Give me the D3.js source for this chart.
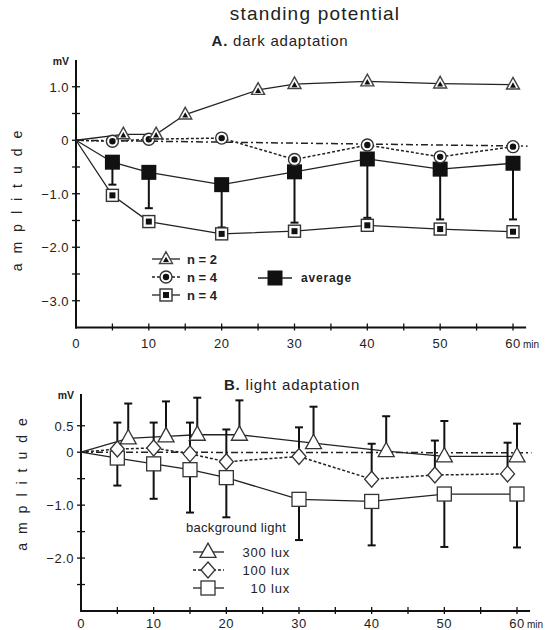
<!DOCTYPE html>
<html>
<head>
<meta charset="utf-8">
<script src="https://cdn.jsdelivr.net/npm/d3@7"></script>
<style>
  body { margin: 0; background: #fff; }
  svg text { font-family: "Liberation Sans", Arial, sans-serif; fill: #222; }
</style>
</head>
<body>
<div id="chart"></div>
<script>
// ---- panel A: dark adaptation ----
const triTimesA = [0, 6.5, 11, 15, 25, 30, 40, 50, 60];
const triValsA = [0, 0.11, 0.11, 0.48, 0.94, 1.05, 1.10, 1.06, 1.04];
const timesA = [0, 5, 10, 20, 30, 40, 50, 60];
const circValsA = [0, -0.02, 0.02, 0.04, -0.36, -0.09, -0.31, -0.12];
const sqValsA = [0, -1.03, -1.52, -1.75, -1.70, -1.59, -1.66, -1.71];
const avgValsA = [0, -0.41, -0.60, -0.83, -0.59, -0.35, -0.54, -0.43];
const avgLowA = [null, -0.83, -1.27, -1.63, -1.54, -1.45, -1.48, -1.48];
const baseA = [[0, 0], [62, -0.11]];
const yTicksA = [1.0, 0.5, 0, -0.5, -1.0, -1.5, -2.0, -2.5, -3.0];
const yLabelsA = [1.0, 0, -1.0, -2.0, -3.0];

// ---- panel B: light adaptation ----
const triTimesB = [0, 6.5, 11.7, 16, 21.8, 32, 42, 50, 60];
const triValsB = [0, 0.26, 0.30, 0.33, 0.33, 0.17, 0.02, -0.08, -0.08];
const triHighB = [null, 0.92, 0.96, 1.03, 0.98, 0.86, 0.68, 0.59, 0.54];
const diaTimesB = [0, 5, 10, 15, 20, 30, 40, 48.7, 58.7];
const diaValsB = [0, 0.06, 0.08, -0.03, -0.18, -0.08, -0.51, -0.43, -0.41];
const diaHighB = [null, 0.56, 0.56, 0.56, 0.43, 0.47, 0.16, 0.22, 0.18];
const sqTimesB = [0, 5, 10, 15, 20, 30, 40, 50, 60];
const sqValsB = [0, -0.11, -0.22, -0.33, -0.48, -0.89, -0.93, -0.79, -0.79];
const sqLowB = [null, -0.63, -0.88, -1.14, -1.23, -1.66, -1.76, -1.79, -1.80];
const baseB = [[0, 0], [62, -0.01]];
const yTicksB = [0.5, 0, -0.5, -1.0, -1.5, -2.0, -2.5];
const yLabelsB = [0.5, 0, -1.0, -2.0];

const xTicks = [0, 5, 10, 15, 20, 25, 30, 35, 40, 45, 50, 55, 60];
const xLabels = [0, 10, 20, 30, 40, 50, 60];

const width = 555, height = 630;
const svg = d3.select("#chart").append("svg")
  .attr("width", width).attr("height", height);

const xA = d3.scaleLinear().domain([0, 60]).range([76, 513]);
const yA = d3.scaleLinear().domain([-3.5, 1.5]).range([327.5, 60]);
const xB = d3.scaleLinear().domain([0, 60]).range([81, 517]);
const yB = d3.scaleLinear().domain([-3.0, 1.1]).range([611, 394]);

function fmt(v){
  if (v === 0) return "0";
  return (v < 0 ? "\u2212" : "") + Math.abs(v).toFixed(1);
}

// draw axes for one panel
function drawAxes(x, y, yTicks, yLabels, xEnd, labelGap){
  const g = svg.append("g");
  const x0 = x(0), yBottom = y.range()[0], yTop = y.range()[1];
  g.append("line").attr("x1", x0).attr("x2", x0).attr("y1", yTop).attr("y2", yBottom + 1)
    .attr("stroke", "#111").attr("stroke-width", 2);
  g.append("line").attr("x1", x0 - 1).attr("x2", x(xEnd)).attr("y1", yBottom).attr("y2", yBottom)
    .attr("stroke", "#111").attr("stroke-width", 2);
  yTicks.forEach(t => {
    g.append("line").attr("x1", x0 - 4).attr("x2", x0 + 4).attr("y1", y(t)).attr("y2", y(t))
      .attr("stroke", "#111").attr("stroke-width", 1.3);
  });
  yLabels.forEach(t => {
    g.append("text").attr("x", x0 - 7).attr("y", y(t) + 5)
      .attr("text-anchor", "end").style("font-size", "13px").style("letter-spacing", "0.5px")
      .text(fmt(t));
  });
  xTicks.forEach(t => {
    if (t === 0) return;
    g.append("line").attr("x1", x(t)).attr("x2", x(t)).attr("y1", yBottom - 4).attr("y2", yBottom + 3)
      .attr("stroke", "#111").attr("stroke-width", 1.3);
  });
  xLabels.forEach(t => {
    g.append("text").attr("x", x(t)).attr("y", yBottom + labelGap)
      .attr("text-anchor", "middle").style("font-size", "13px").style("letter-spacing", "0.5px")
      .text(t);
  });
  g.append("text").attr("x", x(60) + 10).attr("y", yBottom + labelGap)
    .style("font-size", "10px").text("min");
  g.append("text").attr("x", x0 - 7).attr("y", yTop + 5)
    .attr("text-anchor", "end").style("font-size", "10.5px").style("font-weight", "bold").text("mV");
}

const line = (x, y) => d3.line().x(d => x(d[0])).y(d => y(d[1]));
const zipXY = (ts, vs) => ts.map((t, i) => [t, vs[i]]);

function drawLine(x, y, pts, dash){
  svg.append("path").datum(pts)
    .attr("d", line(x, y))
    .attr("fill", "none").attr("stroke", "#222").attr("stroke-width", dash ? 1.5 : 1.3)
    .attr("stroke-dasharray", dash || null);
}

function errBar(x, y, t, v, end){
  const g = svg.append("g");
  g.append("line").attr("x1", x(t)).attr("x2", x(t)).attr("y1", y(v)).attr("y2", y(end))
    .attr("stroke", "#111").attr("stroke-width", 2);
  g.append("line").attr("x1", x(t) - 4).attr("x2", x(t) + 4).attr("y1", y(end)).attr("y2", y(end))
    .attr("stroke", "#111").attr("stroke-width", 2);
}

// marker shapes
function triangle(cx, cy, s){
  const h = s * 0.9;
  return `M${cx},${cy - h * 0.62}L${cx + s / 2},${cy + h * 0.38}L${cx - s / 2},${cy + h * 0.38}Z`;
}
function marker(type, cx, cy){
  const g = svg.append("g");
  if (type === "triA"){
    g.append("path").attr("d", triangle(cx, cy, 13)).attr("fill", "#fff").attr("stroke", "#444").attr("stroke-width", 1.4);
    g.append("path").attr("d", triangle(cx, cy + 1, 6)).attr("fill", "#111");
  } else if (type === "circA"){
    g.append("circle").attr("cx", cx).attr("cy", cy).attr("r", 6).attr("fill", "#fff").attr("stroke", "#333").attr("stroke-width", 1.4);
    g.append("circle").attr("cx", cx).attr("cy", cy).attr("r", 3.2).attr("fill", "#111");
  } else if (type === "sqA"){
    g.append("rect").attr("x", cx - 6).attr("y", cy - 6).attr("width", 12).attr("height", 12).attr("fill", "#fff").attr("stroke", "#333").attr("stroke-width", 1.4);
    g.append("rect").attr("x", cx - 3).attr("y", cy - 3).attr("width", 6).attr("height", 6).attr("fill", "#111");
  } else if (type === "avg"){
    g.append("rect").attr("x", cx - 7.5).attr("y", cy - 7.5).attr("width", 15).attr("height", 15).attr("fill", "#111");
  } else if (type === "triB"){
    g.append("path").attr("d", triangle(cx, cy, 16)).attr("fill", "#fff").attr("stroke", "#333").attr("stroke-width", 1.3);
  } else if (type === "diaB"){
    g.append("path").attr("d", `M${cx},${cy - 8}L${cx + 7},${cy}L${cx},${cy + 8}L${cx - 7},${cy}Z`)
      .attr("fill", "#fff").attr("stroke", "#333").attr("stroke-width", 1.3);
  } else if (type === "sqB"){
    g.append("rect").attr("x", cx - 7) .attr("y", cy - 7).attr("width", 14).attr("height", 14).attr("fill", "#fff").attr("stroke", "#333").attr("stroke-width", 1.3);
  }
}

// ---------- titles ----------
svg.append("text").attr("x", 315).attr("y", 20).attr("text-anchor", "middle")
  .style("font-size", "19px").style("letter-spacing", "1.2px").text("standing potential");
const tA = svg.append("text").attr("x", 280).attr("y", 46).attr("text-anchor", "middle").style("font-size", "15px").style("letter-spacing", "0.8px");
tA.append("tspan").style("font-weight", "bold").text("A. ");
tA.append("tspan").text("dark adaptation");
const tB = svg.append("text").attr("x", 292).attr("y", 390).attr("text-anchor", "middle").style("font-size", "15px").style("letter-spacing", "0.8px");
tB.append("tspan").style("font-weight", "bold").text("B. ");
tB.append("tspan").text("light adaptation");

svg.append("text").attr("transform", "translate(22,196) rotate(-90)").attr("text-anchor", "middle")
  .style("font-size", "14px").style("letter-spacing", "10px").text("amplitude");
svg.append("text").attr("transform", "translate(27,480) rotate(-90)").attr("text-anchor", "middle")
  .style("font-size", "14px").style("letter-spacing", "9px").text("amplitude");

// ---------- panel A ----------
drawAxes(xA, yA, yTicksA, yLabelsA, 61.8, 20);
drawLine(xA, yA, baseA, "7,3,2,3");
drawLine(xA, yA, zipXY(triTimesA, triValsA));
drawLine(xA, yA, zipXY(timesA, circValsA), "3,2");
drawLine(xA, yA, zipXY(timesA, sqValsA));
drawLine(xA, yA, zipXY(timesA, avgValsA));
timesA.forEach((t, i) => { if (avgLowA[i] !== null) errBar(xA, yA, t, avgValsA[i], avgLowA[i]); });
timesA.forEach((t, i) => { if (i > 0) marker("sqA", xA(t), yA(sqValsA[i])); });
timesA.forEach((t, i) => { if (i > 0) marker("avg", xA(t), yA(avgValsA[i])); });
timesA.forEach((t, i) => { if (i > 0) marker("circA", xA(t), yA(circValsA[i])); });
triTimesA.forEach((t, i) => { if (i > 0) marker("triA", xA(t), yA(triValsA[i])); });

// legend A
const legA = [
  {type: "triA", label: "n = 2", dash: null, y: 259},
  {type: "circA", label: "n = 4", dash: "3,2", y: 277},
  {type: "sqA", label: "n = 4", dash: null, y: 295}
];
legA.forEach(d => {
  svg.append("line").attr("x1", 152).attr("x2", 180).attr("y1", d.y).attr("y2", d.y)
    .attr("stroke", "#222").attr("stroke-width", 1.3).attr("stroke-dasharray", d.dash);
  marker(d.type, 166, d.y);
  svg.append("text").attr("x", 187).attr("y", d.y + 5).style("font-size", "13px").style("font-weight", "bold").text(d.label);
});
svg.append("line").attr("x1", 258).attr("x2", 292).attr("y1", 278).attr("y2", 278).attr("stroke", "#222").attr("stroke-width", 1.5);
marker("avg", 275, 278);
svg.append("text").attr("x", 301).attr("y", 282).style("font-size", "12px").style("font-weight", "bold").style("letter-spacing", "0.8px").text("average");

// ---------- panel B ----------
drawAxes(xB, yB, yTicksB, yLabelsB, 61.8, 16.5);
drawLine(xB, yB, baseB, "7,3,2,3");
drawLine(xB, yB, zipXY(triTimesB, triValsB));
drawLine(xB, yB, zipXY(diaTimesB, diaValsB), "3,2");
drawLine(xB, yB, zipXY(sqTimesB, sqValsB));
triTimesB.forEach((t, i) => { if (triHighB[i] !== null) errBar(xB, yB, t, triValsB[i], triHighB[i]); });
diaTimesB.forEach((t, i) => { if (diaHighB[i] !== null) errBar(xB, yB, t, diaValsB[i], diaHighB[i]); });
sqTimesB.forEach((t, i) => { if (sqLowB[i] !== null) errBar(xB, yB, t, sqValsB[i], sqLowB[i]); });
sqTimesB.forEach((t, i) => { if (i > 0) marker("sqB", xB(t), yB(sqValsB[i])); });
diaTimesB.forEach((t, i) => { if (i > 0) marker("diaB", xB(t), yB(diaValsB[i])); });
triTimesB.forEach((t, i) => { if (i > 0) marker("triB", xB(t), yB(triValsB[i])); });

// legend B
svg.append("text").attr("x", 186).attr("y", 532).style("font-size", "13px").style("letter-spacing", "0.3px").text("background light");
const legB = [
  {type: "triB", label: "300 lux", dash: null, y: 552},
  {type: "diaB", label: "100 lux", dash: "3,2", y: 570},
  {type: "sqB", label: "10 lux", dash: null, y: 588}
];
legB.forEach(d => {
  svg.append("line").attr("x1", 193).attr("x2", 224).attr("y1", d.y).attr("y2", d.y)
    .attr("stroke", "#222").attr("stroke-width", 1.3).attr("stroke-dasharray", d.dash);
  marker(d.type, 208, d.y);
  svg.append("text").attr("x", 290).attr("y", d.y + 5).attr("text-anchor", "end")
    .style("font-size", "13px").style("letter-spacing", "0.8px").text(d.label);
});
</script>
</body>
</html>
